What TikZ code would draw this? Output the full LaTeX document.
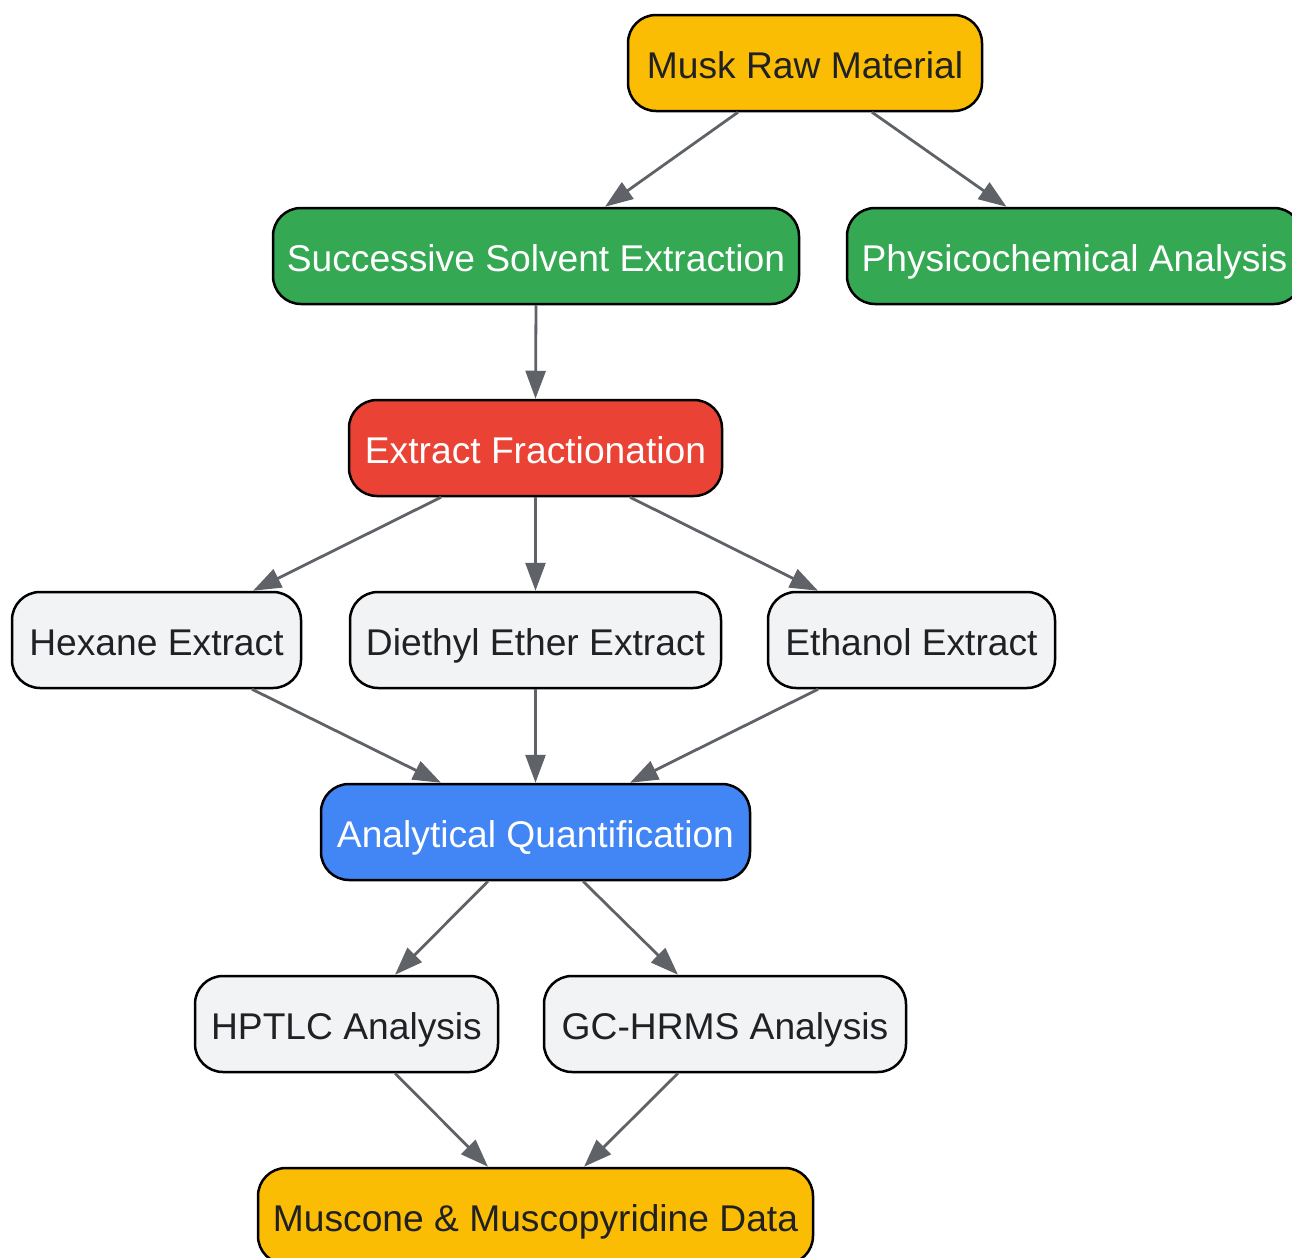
\documentclass[tikz,border=0pt]{standalone}
\usepackage{fontspec}
\setmainfont{Liberation Sans}
\usetikzlibrary{arrows.meta,calc}
\definecolor{cyellow}{HTML}{FBBC04}
\definecolor{cgreen}{HTML}{34A853}
\definecolor{cred}{HTML}{EA4335}
\definecolor{cblue}{HTML}{4285F4}
\definecolor{cgrey}{HTML}{F1F3F4}
\definecolor{ctext}{HTML}{202124}
\definecolor{cedge}{HTML}{5F6368}
\begin{document}
\begin{tikzpicture}[x=0.5pt,y=-0.5pt,
  box/.style={draw=black,line width=1.25pt,rounded corners=14pt,minimum height=48pt,inner sep=0pt,
    text height=17pt,text depth=2pt,font=\fontsize{18.6}{22}\selectfont},
  ybox/.style={box,fill=cyellow,text=ctext},
  gbox/.style={box,fill=cgreen,text=white},
  rbox/.style={box,fill=cred,text=white},
  bbox/.style={box,fill=cblue,text=white},
  lbox/.style={box,fill=cgrey,text=ctext},
  edge/.style={draw=cedge,line width=1.4pt,-{Triangle[length=14pt,width=10pt]}}]
\useasboundingbox (0,0) rectangle (1292,1258);
\clip (0,0) rectangle (1292,1258);
\node[ybox,minimum width=177pt] (musk) at (805,63) {Musk Raw Material};
\node[gbox,minimum width=263pt] (succ) at (536,256) {Successive Solvent Extraction};
\node[gbox,minimum width=227.5pt] (phys) at (1074.5,256) {Physicochemical Analysis};
\node[rbox,minimum width=186.5pt] (frac) at (535.5,448) {Extract Fractionation};
\node[lbox,minimum width=144.5pt] (hex) at (156.5,640) {Hexane Extract};
\node[lbox,minimum width=185.5pt] (die) at (535.5,640) {Diethyl Ether Extract};
\node[lbox,minimum width=143.5pt] (eth) at (911.5,640) {Ethanol Extract};
\node[bbox,minimum width=214.5pt] (anq) at (535.5,832) {Analytical Quantification};
\node[lbox,minimum width=151.5pt] (hptlc) at (346.5,1024) {HPTLC Analysis};
\node[lbox,minimum width=181pt] (gc) at (725,1024) {GC-HRMS Analysis};
\node[ybox,minimum width=277.5pt] (mus) at (535.5,1216) {Muscone \& Muscopyridine Data};

\draw[edge] ($(musk.south)+(-67,0)$) -- ($(succ.north)+(69,0)$);
\draw[edge] ($(musk.south)+(67,0)$) -- ($(phys.north)+(-68,0)$);
\draw[edge] (succ.south) -- (frac.north);
\draw[edge] ($(frac.south)+(-94.5,0)$) -- ($(hex.north)+(96.5,0)$);
\draw[edge] (frac.south) -- (die.north);
\draw[edge] ($(frac.south)+(94.5,0)$) -- ($(eth.north)+(-93.5,0)$);
\draw[edge] ($(hex.south)+(95.5,0)$) -- ($(anq.north)+(-94.5,0)$);
\draw[edge] (die.south) -- (anq.north);
\draw[edge] ($(eth.south)+(-93.5,0)$) -- ($(anq.north)+(94.5,0)$);
\draw[edge] ($(anq.south)+(-47.5,0)$) -- ($(hptlc.north)+(48.5,0)$);
\draw[edge] ($(anq.south)+(47.5,0)$) -- ($(gc.north)+(-47,0)$);
\draw[edge] ($(hptlc.south)+(48.5,0)$) -- ($(mus.north)+(-47.5,0)$);
\draw[edge] ($(gc.south)+(-47,0)$) -- ($(mus.north)+(48.5,0)$);
\end{tikzpicture}
\end{document}
